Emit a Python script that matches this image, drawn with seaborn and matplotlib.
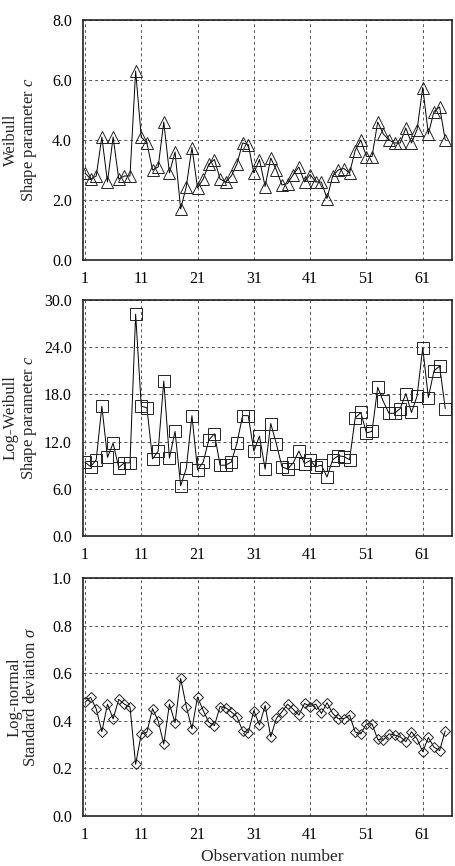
import matplotlib
matplotlib.use('Agg')
import matplotlib.pyplot as plt
import seaborn as sns
import numpy as np

sns.set_style('white')
plt.rcParams['font.family'] = ['Liberation Serif', 'DejaVu Serif']
plt.rcParams['mathtext.fontset'] = 'custom'
plt.rcParams['mathtext.it'] = 'Liberation Serif:italic'
plt.rcParams['mathtext.rm'] = 'Liberation Serif'

obs = np.arange(1, 66)

weibull_c = [2.9, 2.7, 2.8, 4.1, 2.6, 4.1, 2.7, 2.8, 2.8, 6.3,
             4.1, 3.9, 3.0, 3.1, 4.6, 2.9, 3.6, 1.7, 2.45, 3.75,
             2.4, 2.7, 3.2, 3.35, 2.7, 2.6, 2.8, 3.2, 3.9, 3.85,
             2.9, 3.35, 2.45, 3.4, 3.0, 2.5, 2.55, 2.85, 3.1, 2.6,
             2.85, 2.6, 2.6, 2.05, 2.8, 3.0, 3.05, 2.9, 3.65, 4.0,
             3.45, 3.45, 4.6, 4.2, 4.0, 3.9, 3.9, 4.4, 3.9, 4.35,
             5.75, 4.2, 4.95, 5.1, 4.0]

logweibull_c = [9.4, 8.8, 9.7, 16.5, 10.0, 11.8, 8.7, 9.3, 9.3, 28.2,
                16.5, 16.3, 9.8, 10.8, 19.7, 9.9, 13.3, 6.4, 8.6, 15.3,
                8.4, 9.4, 12.2, 13.0, 9.0, 9.0, 9.4, 11.8, 15.3, 15.3,
                10.8, 12.7, 8.5, 14.3, 11.7, 8.8, 8.5, 9.3, 10.8, 9.2,
                9.6, 8.8, 9.0, 7.5, 9.7, 10.2, 10.1, 9.7, 15.0, 15.7,
                13.1, 13.3, 18.9, 17.1, 15.6, 15.6, 16.2, 18.1, 15.7, 17.8,
                23.9, 17.6, 21.0, 21.6, 16.2]

lognormal_sigma = [0.478, 0.499, 0.45, 0.354, 0.47, 0.408, 0.49, 0.47, 0.458, 0.217,
                   0.345, 0.352, 0.451, 0.40, 0.302, 0.47, 0.392, 0.578, 0.46, 0.366,
                   0.50, 0.443, 0.394, 0.38, 0.46, 0.455, 0.437, 0.417, 0.358, 0.35,
                   0.443, 0.382, 0.464, 0.333, 0.41, 0.438, 0.47, 0.448, 0.424, 0.473,
                   0.46, 0.47, 0.431, 0.476, 0.431, 0.409, 0.409, 0.424, 0.353, 0.345,
                   0.387, 0.387, 0.322, 0.319, 0.345, 0.34, 0.333, 0.312, 0.354, 0.324,
                   0.27, 0.33, 0.289, 0.275, 0.358]

panels = [
    (weibull_c, '^', 'Weibull\nShape parameter $c$', [0, 2, 4, 6, 8], 8.5),
    (logweibull_c, 's', 'Log-Weibull\nShape parameter $c$', [0, 6, 12, 18, 24, 30], 8),
    (lognormal_sigma, 'D', 'Log-normal\nStandard deviation $\\sigma$', [0, 0.2, 0.4, 0.6, 0.8, 1.0], 5.5),
]
xticks = [1, 11, 21, 31, 41, 51, 61]

W, H = 456, 866
fig = plt.figure(figsize=(W / 100, H / 100), dpi=100)
boxes = [(20, 260), (300, 536), (578, 816)]

for (vals, mk, lab, yt, ms), (top, bot) in zip(panels, boxes):
    ax = fig.add_axes([83 / W, (H - bot) / H, 369 / W, (bot - top) / H])
    sns.lineplot(x=obs, y=vals, ax=ax, color='black', linewidth=0.7,
                 marker=mk, markersize=ms, markerfacecolor='none',
                 markeredgecolor='#222222', markeredgewidth=0.7)
    ax.set_xlim(0.65, 66.2)
    ax.set_ylim(yt[0], yt[-1])
    ax.set_yticks(yt)
    ax.set_yticklabels(['%.1f' % v for v in yt])
    ax.set_xticks(xticks)
    ax.tick_params(length=0, labelsize=11.5, pad=8, colors='black')
    ax.grid(True, linestyle=(0, (3, 3)), color='#555555', linewidth=0.7)
    for s in ax.spines.values():
        s.set_color('#222222')
        s.set_linewidth(1.2)
    ax.set_ylabel(lab, fontsize=12, linespacing=1.0)
    ax.yaxis.set_label_coords(-0.12, 0.5)
    ax.set_xlabel('')

fig.text(272 / W, 1 - 857 / H, 'Observation number', ha='center', va='center', fontsize=12.5)

fig.savefig('out.png', dpi=100)
